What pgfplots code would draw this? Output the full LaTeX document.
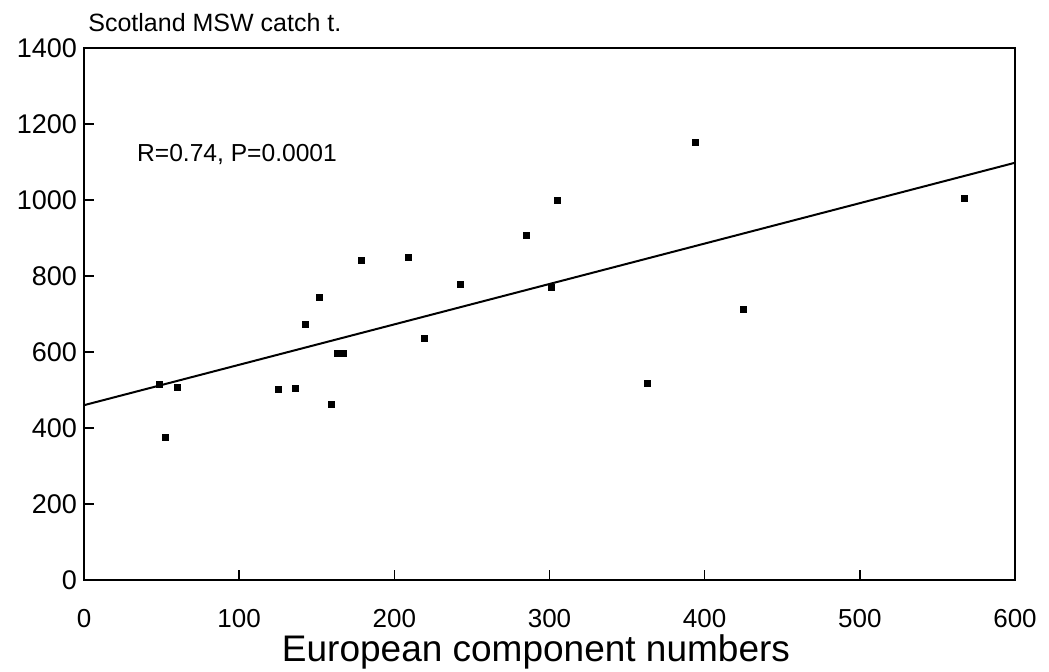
\documentclass[border=0pt]{standalone}
\usepackage{fontspec}
\setmainfont{Liberation Sans}
\usepackage{pgfplots}
\pgfplotsset{compat=1.18}

% European component numbers vs. Scotland MSW catch (t)
\pgfplotstableread{
x     y
48.5  515
52.4  376
60.4  506
125.6 502
136.1 503
159.6 463
142.6 673
151.4 743
163.2 595
167.3 597
178.5 841
208.8 848
219.3 637
242.5 778
285.2 908
301.4 770
304.8 999
363.4 518
394.1 1152
425.0 712
567.5 1005
}\catchdata

% fitted regression line
\pgfplotstableread{
x   y
0   460
600 1098
}\fitline

\begin{document}
\begin{tikzpicture}
\path[use as bounding box] (-42pt,-46pt) rectangle (482.5pt,290pt);
\begin{axis}[
  at={(0,0)}, anchor=south west,
  scale only axis,
  width=465.5pt, height=266pt,
  xmin=0, xmax=600, ymin=0, ymax=1400,
  xtick={0,100,...,600},
  ytick={0,200,...,1400},
  axis line style={line width=0.8pt},
  tick align=inside,
  xtick pos=bottom, ytick pos=left,
  major tick length=5pt,
  tick style={line width=0.7pt, black},
  /pgf/number format/assume math mode=true,
  /pgf/number format/set thousands separator={},
  xticklabel style={font=\fontsize{13}{15}\selectfont, anchor=base, yshift=-24pt},
  yticklabel style={font=\fontsize{13.5}{16}\selectfont},
  clip=false,
]
\addplot[black, line width=1pt] table[x=x, y=y] {\fitline};
\addplot[only marks, mark=square*, mark size=1.5pt, black] table[x=x, y=y] {\catchdata};
\node[anchor=base west, inner sep=0pt, font=\fontsize{12.3}{14}\selectfont] at (axis cs:34,1101) {R=0.74, P=0.0001};
\end{axis}
\node[anchor=base west, inner sep=0pt, font=\fontsize{12.5}{14}\selectfont] at (2pt,274pt) {Scotland MSW catch t.};
\node[anchor=base, inner sep=0pt, font=\fontsize{18.5}{21}\selectfont] at (226pt,-41pt) {European component numbers};
\end{tikzpicture}
\end{document}
